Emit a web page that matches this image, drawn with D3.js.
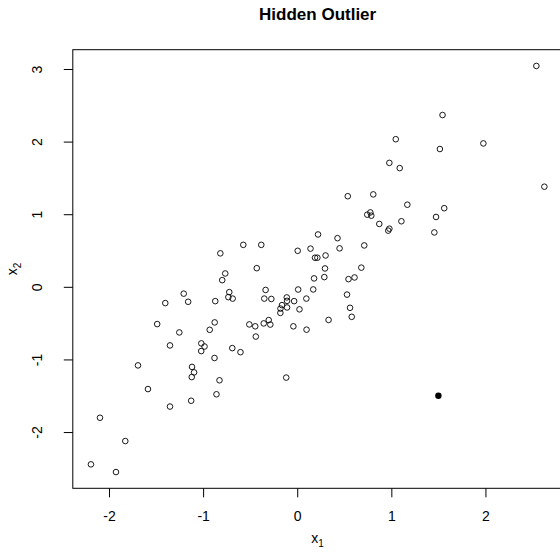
<!DOCTYPE html>
<html>
<head>
<meta charset="utf-8">
<title>Hidden Outlier</title>
<script src="https://d3js.org/d3.v7.min.js"></script>
<style>
  body { margin: 0; background: #fff; }
  svg { display: block; font-family: "Liberation Sans", Arial, Helvetica, sans-serif; }
  .axis text { font-size: 14px; fill: #000; }
  .axis line { stroke: #000; }
</style>
</head>
<body>
<div id="chart"></div>
<script>
// values
const x1 = [2.541, 1.544, 1.047, 1.978, 1.516, 0.979, 1.089, 2.626, 0.537, 0.808,
            1.170, 1.562, 0.744, 0.777, 0.787, 1.475, 0.872, 1.107, 0.979, 0.967,
            1.457, 0.221, 0.428, 0.450, 0.141, 0.712, 0.189, 0.214, 0.301, 0.295,
            0.288, 0.179, 0.681, 0.545, 0.609, 0.170, 0.529, 0.097, 0.005, -0.817,
            -0.573, -0.382, -0.430, -0.765, -0.797, -1.206, -0.722, -0.336, 0.010, -0.732,
            -0.686, -0.350, -0.275, -1.402, -1.159, -0.871, -0.111, -0.108, -0.033, -0.162,
            -0.178, -0.179, -0.108, 0.024, 0.561, 0.579, 0.333, 0.099, -0.041, -0.509,
            -0.446, -0.356, -0.303, -0.286, -0.440, -1.488, -1.253, -0.877, -0.930, -1.352,
            -1.019, -0.985, -1.020, -0.879, -0.690, -0.603, -1.692, -1.586, -1.118, -1.096,
            -1.121, -0.826, -0.858, -1.352, -1.127, -0.117, -2.096, -1.827, -2.192, -1.926];
const x2 = [3.042, 2.366, 2.033, 1.975, 1.898, 1.707, 1.635, 1.379, 1.248, 1.273,
            1.131, 1.083, 0.994, 1.025, 0.980, 0.962, 0.866, 0.903, 0.801, 0.774,
            0.749, 0.721, 0.670, 0.530, 0.526, 0.570, 0.401, 0.401, 0.432, 0.253,
            0.134, 0.116, 0.264, 0.106, 0.129, -0.036, -0.107, -0.162, 0.496, 0.461,
            0.578, 0.578, 0.257, 0.184, 0.092, -0.094, -0.073, -0.043, -0.037, -0.142,
            -0.162, -0.162, -0.167, -0.224, -0.206, -0.197, -0.146, -0.193, -0.197, -0.252,
            -0.300, -0.359, -0.284, -0.310, -0.289, -0.413, -0.456, -0.590, -0.544, -0.518,
            -0.544, -0.504, -0.458, -0.520, -0.685, -0.513, -0.628, -0.490, -0.592, -0.807,
            -0.779, -0.822, -0.885, -0.980, -0.844, -0.900, -1.082, -1.408, -1.103, -1.178,
            -1.243, -1.287, -1.480, -1.649, -1.569, -1.250, -1.803, -2.124, -2.445, -2.551];
const outX1 = [1.5];
const outX2 = [-1.5];
const xTicks = [-2, -1, 0, 1, 2];
const yTicks = [-2, -1, 0, 1, 2, 3];

const width = 560, height = 554;
const margin = {top: 49.7, right: -2.5, bottom: 65.7, left: 72.8};

// R style: range of the data widened by 4% on each side
function pad(ext) {
    const d = (ext[1] - ext[0]) * 0.04;
    return [ext[0] - d, ext[1] + d];
}
const xDom = pad(d3.extent(x1.concat(outX1)));
const yDom = pad(d3.extent(x2.concat(outX2)));

const xScale = d3.scaleLinear().domain(xDom).range([margin.left, width - margin.right]);
const yScale = d3.scaleLinear().domain(yDom).range([height - margin.bottom, margin.top]);

const svg = d3.select("#chart").append("svg")
    .attr("width", width)
    .attr("height", height);

// plain hyphen like R, not the unicode minus
const fmt = d => String(d);

// x axis
const gx = svg.append("g")
    .attr("class", "axis")
    .attr("transform", "translate(0," + (height - margin.bottom) + ")")
    .call(d3.axisBottom(xScale).tickValues(xTicks).tickSize(9).tickSizeOuter(0)
        .tickFormat(fmt));
gx.select(".domain").remove();
gx.selectAll("text").attr("y", 23).attr("dy", "0.71em");

// y axis, labels turned like R does
const gy = svg.append("g")
    .attr("class", "axis")
    .attr("transform", "translate(" + margin.left + ",0)")
    .call(d3.axisLeft(yScale).tickValues(yTicks).tickSize(9).tickSizeOuter(0)
        .tickFormat(fmt));
gy.select(".domain").remove();
gy.selectAll("text")
    .attr("transform", "rotate(-90)")
    .attr("x", 0)
    .attr("y", -31)
    .attr("dy", 0)
    .style("text-anchor", "middle");

// plot box
svg.append("rect")
    .attr("x", margin.left)
    .attr("y", margin.top)
    .attr("width", width - margin.right - margin.left)
    .attr("height", height - margin.bottom - margin.top)
    .attr("fill", "none")
    .attr("stroke", "#000")
    .attr("stroke-width", 1);

// points
svg.append("g").selectAll("circle")
    .data(d3.zip(x1, x2))
    .enter()
    .append("circle")
    .attr("cx", d => xScale(d[0]))
    .attr("cy", d => yScale(d[1]))
    .attr("r", 2.8)
    .attr("fill", "none")
    .attr("stroke", "#000")
    .attr("stroke-width", 0.9);

svg.append("g").selectAll("circle")
    .data(d3.zip(outX1, outX2))
    .enter()
    .append("circle")
    .attr("cx", d => xScale(d[0]))
    .attr("cy", d => yScale(d[1]))
    .attr("r", 3.2)
    .attr("fill", "#000");

const cx = (margin.left + width - margin.right) / 2;
const cy = (margin.top + height - margin.bottom) / 2;

// title
svg.append("text")
    .attr("x", cx)
    .attr("y", 20)
    .style("text-anchor", "middle")
    .style("font-weight", "bold")
    .style("font-size", "17px")
    .text("Hidden Outlier");

// axis titles with subscripts
const xl = svg.append("text")
    .attr("x", cx)
    .attr("y", 543)
    .style("text-anchor", "middle")
    .style("font-size", "14px");
xl.append("tspan").text("x");
xl.append("tspan").attr("dy", 4).style("font-size", "10px").text("1");

const yl = svg.append("text")
    .attr("transform", "translate(17," + cy + ") rotate(-90)")
    .style("text-anchor", "middle")
    .style("font-size", "14px");
yl.append("tspan").text("x");
yl.append("tspan").attr("dy", 4).style("font-size", "10px").text("2");
</script>
</body>
</html>
